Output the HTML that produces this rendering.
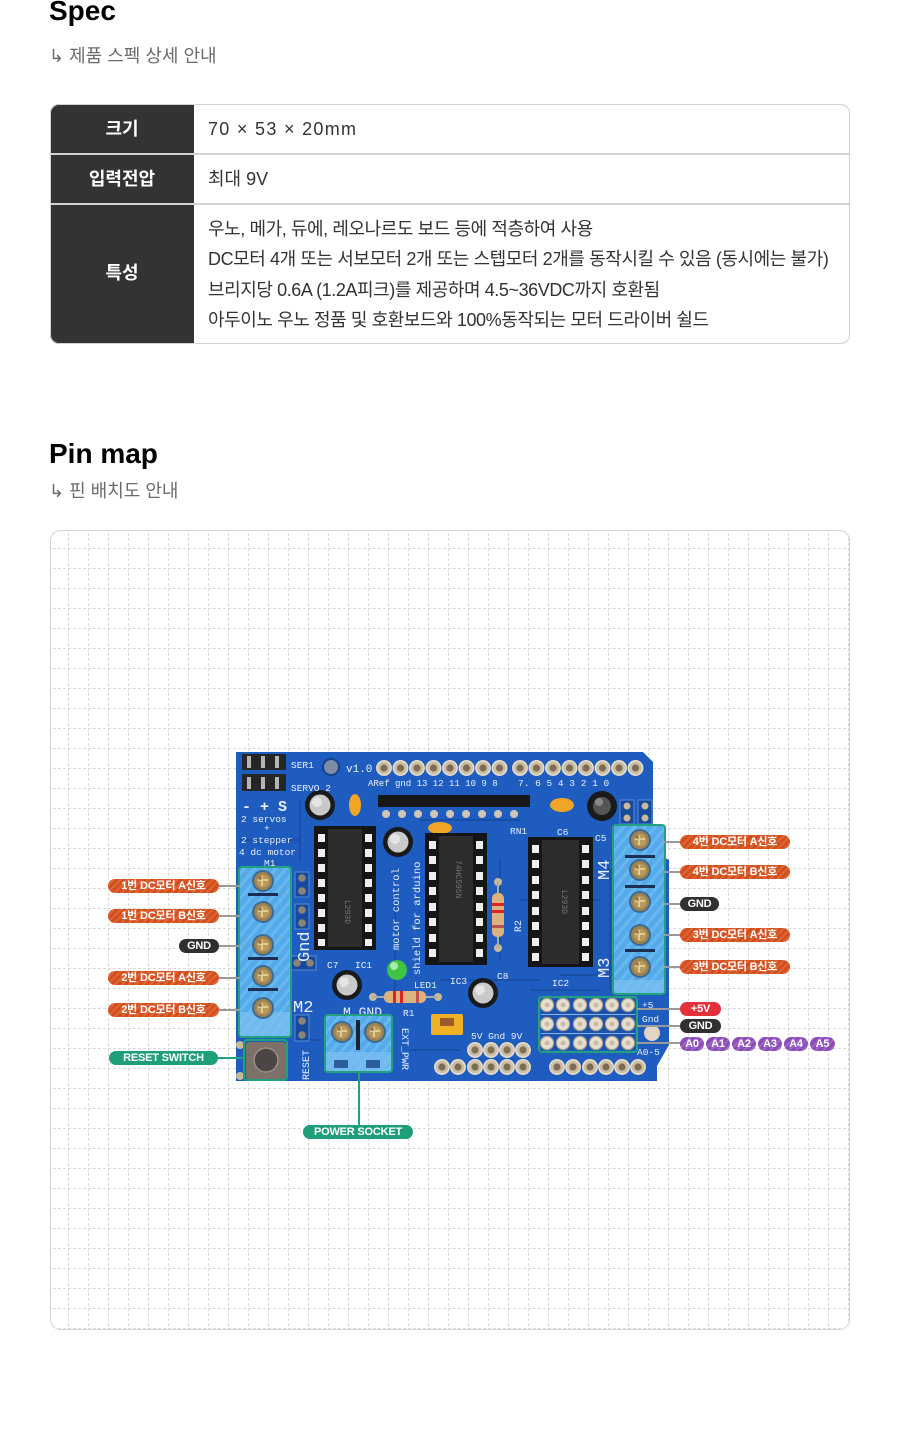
<!DOCTYPE html>
<html><head><meta charset="utf-8">
<style>
*{margin:0;padding:0;box-sizing:border-box}
html,body{width:900px;height:1434px;background:#fff;overflow:hidden}
body{position:relative;font-family:"Liberation Sans","Noto Sans CJK KR",sans-serif;color:#222}
.h{position:absolute;left:49px;font-size:28px;font-weight:700;line-height:28px;color:#000;white-space:nowrap}
.sub{position:absolute;left:49px;font-size:18px;line-height:20px;color:#6b6b6b;white-space:nowrap}
.tbl{position:absolute;left:50px;top:104px;width:800px;height:240px;border-radius:9px;overflow:hidden;background:#fff}
.tbl .hc{position:absolute;left:0;top:0;width:144px;height:240px;background:#333}
.tbl .sep{position:absolute;left:0;width:800px;height:2px;background:#d4d4d4}
.tbl .th{position:absolute;left:0;width:144px;text-align:center;color:#fff;font-size:18px;font-weight:700;line-height:20px}
.tbl .td{position:absolute;left:158px;color:#333;font-size:18px;line-height:20px;white-space:nowrap}
.tbl .ml{position:absolute;left:158px;top:110px;color:#333;font-size:18px;line-height:30.3px;white-space:nowrap;letter-spacing:-0.42px}
.tbor{position:absolute;left:50px;top:104px;width:800px;height:240px;border:1px solid #d2d2d2;border-radius:9px}
.p{position:absolute;height:14px;border-radius:7px;color:#fff;font-size:11px;font-weight:700;line-height:14px;text-align:center;white-space:nowrap;letter-spacing:-0.2px}
.o{background:repeating-linear-gradient(-45deg,#d24f1d 0 3px,#dd6636 3px 5px)}
.k{background:#303030}
.g{background:#1f9e7a}
.r{background:#e2313a}
.u{background:repeating-linear-gradient(-45deg,#8a4cb6 0 3px,#9d66c6 3px 5px)}
</style></head><body>

<div class="h" style="top:-3px">Spec</div>
<div class="sub" style="top:46px">↳ 제품 스펙 상세 안내</div>

<div class="tbl">
  <div class="hc"></div>
  <div class="sep" style="top:49px"></div>
  <div class="sep" style="top:99px"></div>
  <div class="th" style="top:15px">크기</div>
  <div class="th" style="top:65px">입력전압</div>
  <div class="th" style="top:159px">특성</div>
  <div class="td" style="top:15px;letter-spacing:1.3px">70 × 53 × 20mm</div>
  <div class="td" style="top:65px">최대 9V</div>
  <div class="ml">우노, 메가, 듀에, 레오나르도 보드 등에 적층하여 사용<br>DC모터 4개 또는 서보모터 2개 또는 스텝모터 2개를 동작시킬 수 있음 (동시에는 불가)<br>브리지당 0.6A (1.2A피크)를 제공하며 4.5~36VDC까지 호환됨<br>아두이노 우노 정품 및 호환보드와 100%동작되는 모터 드라이버 쉴드</div>
</div>
<div class="tbor"></div>

<div class="h" style="top:440px">Pin map</div>
<div class="sub" style="top:481px">↳ 핀 배치도 안내</div>

<svg style="position:absolute;left:0;top:0" width="900" height="1434" viewBox="0 0 900 1434">
<defs>
<pattern id="grid" x="58" y="538" width="20" height="20" patternUnits="userSpaceOnUse">
<line x1="10.5" y1="0" x2="10.5" y2="20" stroke="#dadada" stroke-width="1" stroke-dasharray="3 2"/>
<line x1="0" y1="10.5" x2="20" y2="10.5" stroke="#dadada" stroke-width="1" stroke-dasharray="3 2"/>
</pattern>
<pattern id="tb" width="8" height="8" patternUnits="userSpaceOnUse" patternTransform="rotate(40)">
<rect width="8" height="8" fill="#56aaea"/>
<rect width="3" height="8" fill="#68b8f0"/>
</pattern>
<g id="screw">
<circle r="11" fill="#3b6a95"/>
<circle r="9" fill="#9c8250"/>
<circle r="6.5" fill="#b89a5e"/>
<path d="M-5 -1 H5 M-1 -5 V5" stroke="#e2cc8e" stroke-width="2"/>
<circle cx="-3" cy="-3" r="2" fill="#8a5a3a" opacity=".6"/>
</g>
<g id="cap">
<circle r="15" fill="#1a1a1a"/>
<circle r="10.5" fill="#c9c9c9"/>
<circle cx="-3" cy="-3" r="5" fill="#e4e4e4"/>
</g>
<g id="hole">
<circle r="7.2" fill="#cdbfa5" stroke="#e6dece" stroke-width="1.5"/>
<circle r="3.6" fill="#7d6d55"/>
</g>
<g id="pad">
<circle r="6.6" fill="#e6ded0" stroke="#a9a08c" stroke-width="1.2"/>
<circle r="2.5" fill="#c8bca4"/>
</g>
</defs>

<!-- panel -->
<rect x="50.5" y="530.5" width="799" height="799" rx="10" fill="#fff" stroke="#d4d4d4"/>
<rect x="51" y="531" width="798" height="798" rx="9" fill="url(#grid)"/>

<!-- board -->
<path d="M236 752 H643 L653 762 V852 L669 860 V1045 L657 1066 V1081 H236 Z" fill="#1e5cc0"/>
<g stroke="#1a4fa8" stroke-width="2" fill="none">
<path d="M300 800 L300 860 M395 870 V990 M420 820 H520 M500 860 V960 M520 900 H600 M440 980 H540 M560 975 H610 M300 1040 H320 M410 1050 H460 M530 990 H600"/>
<path d="M600 860 L610 870 V990 M240 840 H300"/>
</g>

<!-- servo headers -->
<rect x="242" y="754" width="44" height="16" fill="#262626"/>
<rect x="242" y="774" width="44" height="17" fill="#262626"/>
<g fill="#b5b5b5">
<rect x="247" y="756" width="4" height="12"/><rect x="261" y="756" width="4" height="12"/><rect x="275" y="756" width="4" height="12"/>
<rect x="247" y="777" width="4" height="12"/><rect x="261" y="777" width="4" height="12"/><rect x="275" y="777" width="4" height="12"/>
</g>
<circle cx="331" cy="767" r="8" fill="#7c8ea6" stroke="#17428e" stroke-width="2"/>

<!-- top header holes -->
<use href="#hole" x="384" y="768"/><use href="#hole" x="400.5" y="768"/><use href="#hole" x="417" y="768"/><use href="#hole" x="433.5" y="768"/>
<use href="#hole" x="450" y="768"/><use href="#hole" x="466.5" y="768"/><use href="#hole" x="483" y="768"/><use href="#hole" x="499.5" y="768"/>
<use href="#hole" x="520" y="768"/><use href="#hole" x="536.5" y="768"/><use href="#hole" x="553" y="768"/><use href="#hole" x="569.5" y="768"/>
<use href="#hole" x="586" y="768"/><use href="#hole" x="602.5" y="768"/><use href="#hole" x="619" y="768"/><use href="#hole" x="635.5" y="768"/>

<!-- RN1 -->
<rect x="378" y="795" width="152" height="12" fill="#181818"/>
<g fill="#cfc6b4">
<circle cx="386" cy="814" r="4"/><circle cx="402" cy="814" r="4"/><circle cx="418" cy="814" r="4"/><circle cx="434" cy="814" r="4"/>
<circle cx="450" cy="814" r="4"/><circle cx="466" cy="814" r="4"/><circle cx="482" cy="814" r="4"/><circle cx="498" cy="814" r="4"/><circle cx="514" cy="814" r="4"/>
</g>

<!-- pads top right -->
<rect x="620" y="800" width="14" height="24" fill="#174a9e" stroke="#5a8ad0"/>
<rect x="638" y="800" width="14" height="24" fill="#174a9e" stroke="#5a8ad0"/>
<circle cx="627" cy="806" r="3.5" fill="#c9b89a"/><circle cx="627" cy="818" r="3.5" fill="#c9b89a"/>
<circle cx="645" cy="806" r="3.5" fill="#c9b89a"/><circle cx="645" cy="818" r="3.5" fill="#c9b89a"/>

<!-- caps -->
<use href="#cap" x="320" y="805"/>
<use href="#cap" x="398" y="842"/>
<use href="#cap" x="347" y="985"/>
<use href="#cap" x="483" y="993"/>
<circle cx="602" cy="806" r="15" fill="#1a1a1a"/><circle cx="602" cy="806" r="9" fill="#555"/><circle cx="599" cy="802" r="4" fill="#888"/>
<ellipse cx="355" cy="805" rx="6" ry="11" fill="#f1a524"/>
<ellipse cx="440" cy="828" rx="12" ry="6" fill="#f1a524"/>
<ellipse cx="562" cy="805" rx="12" ry="7" fill="#f1a524"/>

<!-- IC1 -->
<rect x="314" y="826" width="62" height="124" fill="#151515"/>
<rect x="328" y="829" width="34" height="118" fill="#2c2c2c"/>
<g fill="#eee">
<rect x="318" y="834" width="7" height="8"/><rect x="318" y="849" width="7" height="8"/><rect x="318" y="864" width="7" height="8"/><rect x="318" y="879" width="7" height="8"/>
<rect x="318" y="894" width="7" height="8"/><rect x="318" y="909" width="7" height="8"/><rect x="318" y="924" width="7" height="8"/><rect x="318" y="939" width="7" height="7"/>
<rect x="365" y="834" width="7" height="8"/><rect x="365" y="849" width="7" height="8"/><rect x="365" y="864" width="7" height="8"/><rect x="365" y="879" width="7" height="8"/>
<rect x="365" y="894" width="7" height="8"/><rect x="365" y="909" width="7" height="8"/><rect x="365" y="924" width="7" height="8"/><rect x="365" y="939" width="7" height="7"/>
</g>
<!-- IC3 -->
<rect x="425" y="833" width="62" height="132" fill="#151515"/>
<rect x="439" y="836" width="34" height="126" fill="#2c2c2c"/>
<g fill="#eee">
<rect x="429" y="841" width="7" height="8"/><rect x="429" y="856" width="7" height="8"/><rect x="429" y="872" width="7" height="8"/><rect x="429" y="887" width="7" height="8"/>
<rect x="429" y="903" width="7" height="8"/><rect x="429" y="918" width="7" height="8"/><rect x="429" y="934" width="7" height="8"/><rect x="429" y="949" width="7" height="8"/>
<rect x="476" y="841" width="7" height="8"/><rect x="476" y="856" width="7" height="8"/><rect x="476" y="872" width="7" height="8"/><rect x="476" y="887" width="7" height="8"/>
<rect x="476" y="903" width="7" height="8"/><rect x="476" y="918" width="7" height="8"/><rect x="476" y="934" width="7" height="8"/><rect x="476" y="949" width="7" height="8"/>
</g>
<!-- IC2 -->
<rect x="528" y="837" width="65" height="130" fill="#151515"/>
<rect x="542" y="840" width="37" height="124" fill="#2c2c2c"/>
<g fill="#eee">
<rect x="532" y="845" width="7" height="8"/><rect x="532" y="860" width="7" height="8"/><rect x="532" y="876" width="7" height="8"/><rect x="532" y="891" width="7" height="8"/>
<rect x="532" y="907" width="7" height="8"/><rect x="532" y="922" width="7" height="8"/><rect x="532" y="938" width="7" height="8"/><rect x="532" y="953" width="7" height="8"/>
<rect x="582" y="845" width="7" height="8"/><rect x="582" y="860" width="7" height="8"/><rect x="582" y="876" width="7" height="8"/><rect x="582" y="891" width="7" height="8"/>
<rect x="582" y="907" width="7" height="8"/><rect x="582" y="922" width="7" height="8"/><rect x="582" y="938" width="7" height="8"/><rect x="582" y="953" width="7" height="8"/>
</g>
<g font-family="Liberation Mono,monospace" font-size="8" fill="#777">
<text transform="translate(345 900) rotate(90)">L293D</text>
<text transform="translate(456 860) rotate(90)">74HC595N</text>
<text transform="translate(562 890) rotate(90)">L293D</text>
</g>

<!-- small pad pairs left -->
<g fill="#174a9e" stroke="#5a8ad0">
<rect x="295" y="872" width="14" height="25"/><rect x="295" y="904" width="14" height="25"/>
<rect x="290" y="956" width="26" height="14"/><rect x="295" y="1015" width="14" height="26"/>
</g>
<g fill="#8a8478">
<circle cx="302" cy="878" r="3.8"/><circle cx="302" cy="891" r="3.8"/><circle cx="302" cy="910" r="3.8"/><circle cx="302" cy="923" r="3.8"/>
<circle cx="297" cy="963" r="3.8"/><circle cx="310" cy="963" r="3.8"/><circle cx="302" cy="1021" r="3.8"/><circle cx="302" cy="1035" r="3.8"/>
</g>

<!-- LED, R1, R2, jumper -->
<circle cx="397" cy="970" r="10" fill="#3fc444"/><circle cx="394" cy="966" r="4" fill="#a8ecaa"/>
<circle cx="373" cy="997" r="4" fill="#c9b89a"/><circle cx="438" cy="997" r="4" fill="#c9b89a"/>
<line x1="373" y1="997" x2="438" y2="997" stroke="#aaa" stroke-width="2"/>
<rect x="384" y="991" width="42" height="12" rx="5" fill="#dcb27e"/>
<rect x="393" y="991" width="3" height="12" fill="#d22"/><rect x="400" y="991" width="3" height="12" fill="#d22"/><rect x="416" y="991" width="3" height="12" fill="#b55"/>
<circle cx="498" cy="882" r="4" fill="#c9b89a"/><circle cx="498" cy="948" r="4" fill="#c9b89a"/>
<line x1="498" y1="882" x2="498" y2="948" stroke="#aaa" stroke-width="2"/>
<rect x="492" y="893" width="12" height="44" rx="5" fill="#dcb27e"/>
<rect x="492" y="903" width="12" height="3" fill="#d22"/><rect x="492" y="910" width="12" height="3" fill="#d22"/><rect x="492" y="925" width="12" height="3" fill="#b55"/>
<rect x="431" y="1014" width="32" height="21" rx="2" fill="#f0b224"/>
<rect x="440" y="1018" width="14" height="8" fill="#9a5a2a"/>

<!-- bottom holes -->
<use href="#hole" x="475" y="1050"/><use href="#hole" x="491" y="1050"/><use href="#hole" x="507" y="1050"/><use href="#hole" x="523" y="1050"/>
<use href="#hole" x="442" y="1067"/><use href="#hole" x="458" y="1067"/><use href="#hole" x="475" y="1067"/><use href="#hole" x="491" y="1067"/><use href="#hole" x="507" y="1067"/><use href="#hole" x="523" y="1067"/>
<use href="#hole" x="557" y="1067"/><use href="#hole" x="573" y="1067"/><use href="#hole" x="590" y="1067"/><use href="#hole" x="606" y="1067"/><use href="#hole" x="622" y="1067"/><use href="#hole" x="638" y="1067"/>

<!-- 6x3 header -->
<rect x="541" y="999" width="94" height="51" fill="#1a52b0"/>
<g stroke="#8fb3e8" stroke-width="1"><line x1="541" y1="1014.5" x2="635" y2="1014.5"/><line x1="541" y1="1033.5" x2="635" y2="1033.5"/></g>
<use href="#pad" x="547" y="1005"/><use href="#pad" x="563" y="1005"/><use href="#pad" x="580" y="1005"/><use href="#pad" x="596" y="1005"/><use href="#pad" x="612" y="1005"/><use href="#pad" x="628" y="1005"/>
<use href="#pad" x="547" y="1024"/><use href="#pad" x="563" y="1024"/><use href="#pad" x="580" y="1024"/><use href="#pad" x="596" y="1024"/><use href="#pad" x="612" y="1024"/><use href="#pad" x="628" y="1024"/>
<use href="#pad" x="547" y="1043"/><use href="#pad" x="563" y="1043"/><use href="#pad" x="580" y="1043"/><use href="#pad" x="596" y="1043"/><use href="#pad" x="612" y="1043"/><use href="#pad" x="628" y="1043"/>
<circle cx="652" cy="1033" r="8" fill="#e2d4c6"/>

<!-- left terminal block -->
<rect x="240" y="868" width="50" height="168" fill="url(#tb)"/>
<rect x="240" y="1012" width="50" height="24" fill="#7cc0f2" opacity=".7"/>
<g fill="#1b2f55"><rect x="248" y="893" width="30" height="3"/><rect x="248" y="957" width="30" height="3"/><rect x="248" y="988" width="30" height="3"/></g>
<use href="#screw" x="263" y="881"/><use href="#screw" x="263" y="912"/><use href="#screw" x="263" y="945"/><use href="#screw" x="263" y="976"/><use href="#screw" x="263" y="1008"/>

<!-- right terminal block -->
<rect x="614" y="826" width="50" height="167" fill="url(#tb)"/>
<rect x="614" y="980" width="50" height="13" fill="#7cc0f2" opacity=".7"/>
<g fill="#1b2f55"><rect x="625" y="855" width="30" height="3"/><rect x="625" y="885" width="30" height="3"/><rect x="625" y="949" width="30" height="3"/></g>
<use href="#screw" x="640" y="840"/><use href="#screw" x="640" y="870"/><use href="#screw" x="640" y="902"/><use href="#screw" x="640" y="935"/><use href="#screw" x="640" y="967"/>

<!-- power terminal -->
<rect x="326" y="1016" width="65" height="55" fill="url(#tb)"/>
<rect x="326" y="1052" width="65" height="19" fill="#7cc0f2" opacity=".7"/>
<rect x="334" y="1060" width="14" height="8" fill="#2b5e9e"/><rect x="366" y="1060" width="14" height="8" fill="#2b5e9e"/>
<rect x="356" y="1020" width="4" height="30" fill="#1b2338"/>
<use href="#screw" x="342" y="1032"/><use href="#screw" x="375" y="1032"/>

<!-- reset button -->
<rect x="246" y="1042" width="40" height="37" rx="3" fill="#7d7068"/>
<circle cx="266" cy="1060" r="12" fill="#4b4644" stroke="#9a8e84" stroke-width="1.5"/>
<circle cx="240" cy="1045" r="4" fill="#c9b89a"/><circle cx="240" cy="1076" r="4" fill="#c9b89a"/>

<!-- silkscreen -->
<g font-family="Liberation Mono,monospace" fill="#eaf0ff" font-size="9.5">
<text x="291" y="768">SER1</text>
<text x="291" y="791">SERVO 2</text>
<text x="346" y="772" font-size="11">v1.0</text>
<text x="368" y="786" font-size="9">ARef gnd 13 12 11 10 9 8</text>
<text x="518" y="786" font-size="9.5">7. 6  5  4 3 2  1  0</text>
<text x="242" y="811" font-size="15" font-weight="700">- + S</text>
<text x="241" y="822">2 servos</text>
<text x="264" y="831">+</text>
<text x="241" y="843">2 stepper</text>
<text x="239" y="855">4 dc motor</text>
<text x="264" y="866">M1</text>
<text x="510" y="834">RN1</text>
<text x="557" y="835">C6</text>
<text x="595" y="841">C5</text>
<text x="327" y="968">C7</text>
<text x="355" y="968">IC1</text>
<text x="414" y="988">LED1</text>
<text x="403" y="1016">R1</text>
<text x="450" y="984">IC3</text>
<text x="497" y="979">C8</text>
<text x="552" y="986">IC2</text>
<text x="471" y="1039">5V Gnd 9V</text>
<text x="642" y="1008">+5</text>
<text x="642" y="1022">Gnd</text>
<text x="637" y="1055">A0-5</text>
<text x="343" y="1016" font-size="13">M  GND</text>
<text x="293" y="1012" font-size="17">M2</text>
<text transform="translate(309 962) rotate(-90)" font-size="17">Gnd</text>
<text transform="translate(609 880) rotate(-90)" font-size="17">M4</text>
<text transform="translate(609 978) rotate(-90)" font-size="17">M3</text>
<text transform="translate(399 950) rotate(-90)" font-size="10.5">motor control</text>
<text transform="translate(420 975) rotate(-90)" font-size="10.5">shield for arduino</text>
<text transform="translate(309 1080) rotate(-90)" font-size="10">RESET</text>
<text transform="translate(402 1028) rotate(90)" font-size="10">EXT_PWR</text>
<text transform="translate(521 932) rotate(-90)" font-size="10">R2</text>
</g>

<!-- green frames -->
<g fill="none" stroke="#22a27c" stroke-width="2">
<rect x="239" y="867" width="52" height="170" rx="3"/>
<rect x="244" y="1040" width="43" height="40" rx="3"/>
<rect x="325" y="1015" width="67" height="57" rx="3"/>
<rect x="613" y="825" width="52" height="169" rx="3"/>
<rect x="539" y="997" width="98" height="55" rx="3"/>
</g>

<!-- connectors -->
<g stroke="#9a9a9a" stroke-width="2">
<line x1="218" y1="886" x2="240" y2="886"/>
<line x1="218" y1="916" x2="240" y2="916"/>
<line x1="218" y1="946" x2="240" y2="946"/>
<line x1="218" y1="978" x2="240" y2="978"/>
<line x1="218" y1="1010" x2="240" y2="1010"/>
<line x1="664" y1="842" x2="681" y2="842"/>
<line x1="664" y1="872" x2="681" y2="872"/>
<line x1="664" y1="904" x2="681" y2="904"/>
<line x1="664" y1="935" x2="681" y2="935"/>
<line x1="664" y1="967" x2="681" y2="967"/>
<line x1="637" y1="1009" x2="681" y2="1009"/>
<line x1="637" y1="1026" x2="681" y2="1026"/>
<line x1="637" y1="1043" x2="681" y2="1043"/>
</g>
<g stroke="#22a27c" stroke-width="2">
<line x1="217" y1="1058" x2="245" y2="1058"/>
<line x1="359" y1="1072" x2="359" y2="1126"/>
</g>
</svg>

<!-- pills -->
<div class="p o" style="left:108px;top:879px;width:111px">1번 DC모터 A신호</div>
<div class="p o" style="left:108px;top:909px;width:111px">1번 DC모터 B신호</div>
<div class="p k" style="left:179px;top:939px;width:40px">GND</div>
<div class="p o" style="left:108px;top:971px;width:111px">2번 DC모터 A신호</div>
<div class="p o" style="left:108px;top:1003px;width:111px">2번 DC모터 B신호</div>
<div class="p g" style="left:109px;top:1051px;width:109px">RESET SWITCH</div>

<div class="p o" style="left:680px;top:835px;width:110px">4번 DC모터 A신호</div>
<div class="p o" style="left:680px;top:865px;width:110px">4번 DC모터 B신호</div>
<div class="p k" style="left:680px;top:897px;width:39px">GND</div>
<div class="p o" style="left:680px;top:928px;width:110px">3번 DC모터 A신호</div>
<div class="p o" style="left:680px;top:960px;width:110px">3번 DC모터 B신호</div>
<div class="p r" style="left:680px;top:1002px;width:41px">+5V</div>
<div class="p k" style="left:680px;top:1019px;width:41px">GND</div>
<div class="p u" style="left:680px;top:1037px;width:24px">A0</div>
<div class="p u" style="left:706px;top:1037px;width:24px">A1</div>
<div class="p u" style="left:732px;top:1037px;width:24px">A2</div>
<div class="p u" style="left:758px;top:1037px;width:24px">A3</div>
<div class="p u" style="left:784px;top:1037px;width:24px">A4</div>
<div class="p u" style="left:810px;top:1037px;width:25px">A5</div>

<div class="p g" style="left:303px;top:1125px;width:110px">POWER SOCKET</div>

</body></html>
